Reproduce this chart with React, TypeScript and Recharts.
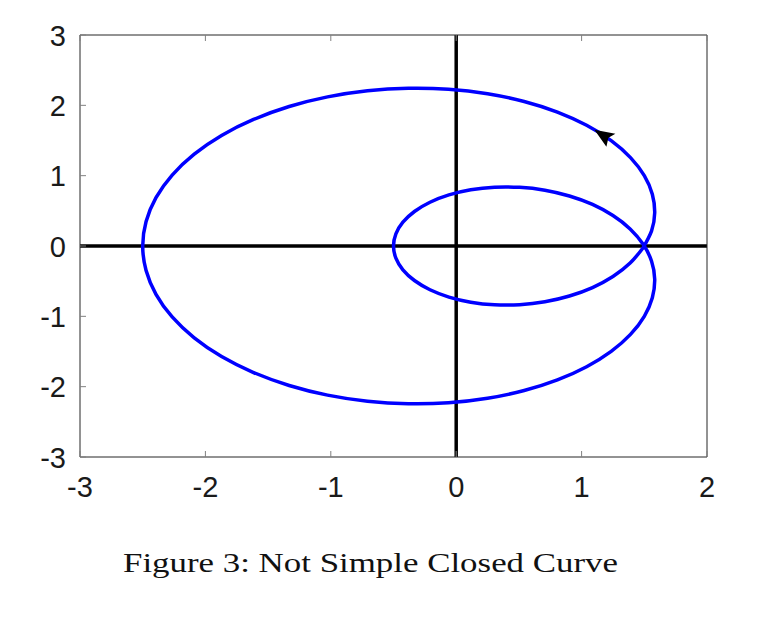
import { LineChart, Line, XAxis, YAxis, ReferenceLine, ReferenceDot } from 'recharts';

// Limaçon-shaped curve, traced counter-clockwise:
// outer loop first, then the inner loop, back to the crossing at (1.5, 0).
const curveX = [
  1.491, 1.558, 1.583, 1.564, 1.5, 1.39, 1.236, 1.04, 0.807, 0.542, 0.25, -0.061, -0.382,
  -0.707, -1.026, -1.332, -1.616, -1.871, -2.089, -2.265, -2.394, -2.473, -2.5,
  -2.473, -2.394, -2.265, -2.089, -1.871, -1.616, -1.332, -1.026, -0.707, -0.382,
  -0.061, 0.25, 0.542, 0.807, 1.04, 1.236, 1.39, 1.5, 1.564, 1.583, 1.558,
  1.491, 1.387, 1.25, 1.087, 0.903, 0.707, 0.506, 0.306, 0.116, -0.058, -0.209, -0.333,
  -0.425, -0.481, -0.5, -0.481, -0.425, -0.333, -0.209, -0.058, 0.116, 0.306, 0.506,
  0.707, 0.903, 1.087, 1.25, 1.387, 1.491,
];
const curveY = [
  -0.024, 0.216, 0.472, 0.736, 1.0, 1.257, 1.498, 1.716, 1.904, 2.055, 2.165, 2.229, 2.243,
  2.207, 2.12, 1.983, 1.799, 1.572, 1.306, 1.009, 0.687, 0.348, 0,
  -0.348, -0.687, -1.009, -1.306, -1.572, -1.799, -1.983, -2.12, -2.207, -2.243,
  -2.229, -2.165, -2.055, -1.904, -1.716, -1.498, -1.257, -1.0, -0.736, -0.472, -0.216,
  0.024, 0.243, 0.433, 0.591, 0.711, 0.793, 0.834, 0.836, 0.799, 0.726, 0.622, 0.491,
  0.339, 0.173, 0, -0.173, -0.339, -0.491, -0.622, -0.726, -0.799, -0.836, -0.834,
  -0.793, -0.711, -0.591, -0.433, -0.243, -0.024,
];
const xTicks = [-3, -2, -1, 0, 1, 2];
const yTicks = [-3, -2, -1, 0, 1, 2, 3];
const arrowAt = { x: 1.11, y: 1.64 };
const caption = 'Figure 3: Not Simple Closed Curve';

const data = curveX.map((x, i) => ({ x, y: curveY[i] }));

const FRAME = '#262626';
const TICK = '#808080';
const LABEL_FONT = '"Liberation Sans", Arial, Helvetica, sans-serif';
const TINY = 0.001; // 0 gets swapped for the default, so use a hair instead

const BottomTick = ({ x, y, payload }: any) => (
  <g>
    <line x1={x} x2={x} y1={y} y2={y - 6} stroke={TICK} />
    <text x={x} y={y + 40} textAnchor="middle" fontSize={29} fill="#1a1a1a" fontFamily={LABEL_FONT}>
      {payload.value}
    </text>
  </g>
);

const LeftTick = ({ x, y, payload }: any) => (
  <g>
    <line x1={x} x2={x + 6} y1={y} y2={y} stroke={TICK} />
    <text x={x - 14} y={y + 10.5} textAnchor="end" fontSize={29} fill="#1a1a1a" fontFamily={LABEL_FONT}>
      {payload.value}
    </text>
  </g>
);

const TopTick = ({ x, y }: any) => <line x1={x} x2={x} y1={y} y2={y + 6} stroke={TICK} />;
const RightTick = ({ x, y }: any) => <line x1={x} x2={x - 6} y1={y} y2={y} stroke={TICK} />;

// arrowhead pointing up-left along the direction of travel; tip at (cx, cy)
const ArrowHead = ({ cx, cy }: any) => (
  <polygon
    points={`${cx - 1},${cy - 1} ${cx + 20},${cy + 3} ${cx + 13},${cy + 7} ${cx + 11},${cy + 16}`}
    fill="#000"
  />
);

export default function App() {
  return (
    <div style={{ position: 'absolute', left: 0, top: 0, width: 758, height: 620, background: '#fff' }}>
      <LineChart width={758} height={620} data={data} margin={{ top: 34, right: 50, left: 0, bottom: 0 }}>
        <XAxis
          dataKey="x"
          type="number"
          domain={[-3, 2]}
          ticks={xTicks}
          height={163}
          tickSize={TINY}
          tickMargin={TINY}
          tickLine={false}
          axisLine={{ stroke: FRAME }}
          tick={<BottomTick />}
        />
        <XAxis
          xAxisId="top"
          orientation="top"
          dataKey="x"
          type="number"
          domain={[-3, 2]}
          ticks={xTicks}
          height={1}
          tickSize={TINY}
          tickMargin={TINY}
          tickLine={false}
          axisLine={{ stroke: FRAME }}
          tick={<TopTick />}
        />
        <YAxis
          type="number"
          domain={[-3, 3]}
          ticks={yTicks}
          width={80}
          tickSize={TINY}
          tickMargin={TINY}
          tickLine={false}
          axisLine={{ stroke: FRAME }}
          tick={<LeftTick />}
        />
        <YAxis
          yAxisId="right"
          orientation="right"
          type="number"
          domain={[-3, 3]}
          ticks={yTicks}
          width={1}
          tickSize={TINY}
          tickMargin={TINY}
          tickLine={false}
          axisLine={{ stroke: FRAME }}
          tick={<RightTick />}
        />
        <ReferenceLine x={0} stroke="#000" strokeWidth={3.5} />
        <ReferenceLine y={0} stroke="#000" strokeWidth={3.5} />
        <Line
          dataKey="y"
          type="natural"
          stroke="#0000ff"
          strokeWidth={3.5}
          dot={false}
          activeDot={false}
          isAnimationActive={false}
        />
        <ReferenceDot x={arrowAt.x} y={arrowAt.y} shape={<ArrowHead />} />
      </LineChart>
      <svg width={758} height={620} style={{ position: 'absolute', left: 0, top: 0, pointerEvents: 'none' }}>
        <text
          x={123}
          y={572}
          fontSize={28}
          fontFamily='"Liberation Serif", "Times New Roman", serif'
          fill="#111"
          textLength={495}
          lengthAdjust="spacingAndGlyphs"
        >
          {caption}
        </text>
      </svg>
    </div>
  );
}
